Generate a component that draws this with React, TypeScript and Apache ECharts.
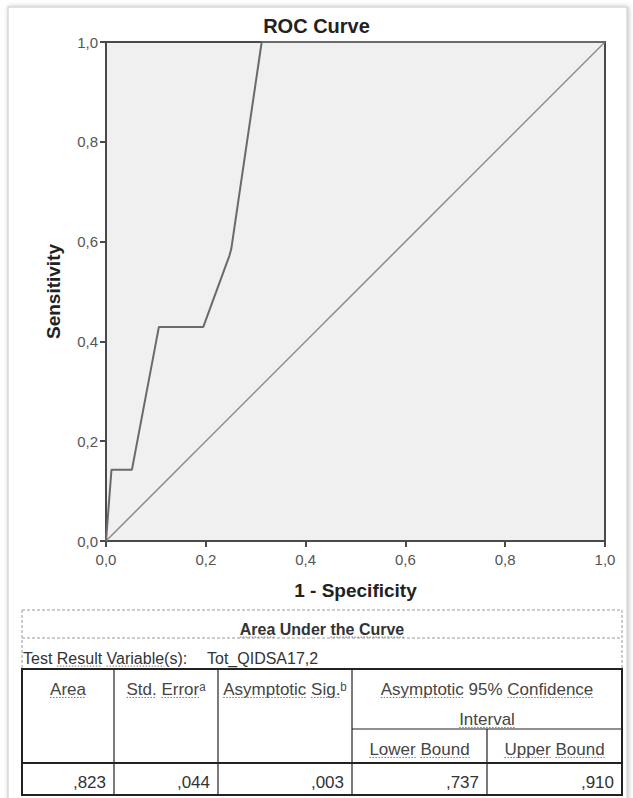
import React, { useEffect, useRef } from "react";
import * as echarts from "echarts";

// ROC curve points (1 - specificity, sensitivity)
const fpr = [0, 0.011, 0.052, 0.106, 0.195, 0.247, 0.251, 0.312, 1];
const tpr = [0, 0.143, 0.143, 0.429, 0.429, 0.571, 0.585, 1, 1];
// reference diagonal
const refFpr = [0, 1];
const refTpr = [0, 1];
// tick labels
const tickValues = [0, 0.2, 0.4, 0.6, 0.8, 1];
const tickLabels = ["0,0", "0,2", "0,4", "0,6", "0,8", "1,0"];
// table
const tableTitle = "Area Under the Curve";
const testVarLabel = "Test Result Variable(s):";
const testVariable = "Tot_QIDSA17,2";
const colHeaders = ["Area", "Std. Errorᵃ", "Asymptotic Sig.ᵇ"];
const ciHeader = ["Asymptotic 95% Confidence", "Interval"];
const ciSubHeaders = ["Lower Bound", "Upper Bound"];
const aucStats = [0.823, 0.044, 0.003, 0.737, 0.91];

const FONT = '"Liberation Sans", Arial, Helvetica, sans-serif';

function measure(text: string, size: number, weight: string) {
  const c = document.createElement("canvas").getContext("2d");
  if (!c) return text.length * size * 0.55;
  c.font = `${weight} ${size}px ${FONT}`;
  return c.measureText(text).width;
}

type Cell = {
  text: string;
  x: number;
  y: number;
  align: "left" | "center" | "right";
  size: number;
  bold?: boolean;
  color: string;
  ul?: string[];
};

function buildCell(c: Cell): any[] {
  const weight = c.bold ? "bold" : "normal";
  const els: any[] = [
    {
      type: "text",
      x: c.x,
      y: c.y,
      silent: true,
      style: {
        text: c.text,
        fill: c.color,
        fontSize: c.size,
        fontFamily: FONT,
        fontWeight: weight,
        align: c.align,
        verticalAlign: "middle",
        textAlign: c.align,
        textVerticalAlign: "middle",
      },
    },
  ];
  if (c.ul) {
    const total = measure(c.text, c.size, weight);
    const start = c.align === "left" ? c.x : c.align === "center" ? c.x - total / 2 : c.x - total;
    const uy = c.y + c.size * 0.35 + 2.5;
    c.ul.forEach((w) => {
      const idx = c.text.indexOf(w);
      if (idx < 0) return;
      const x0 = start + measure(c.text.slice(0, idx), c.size, weight);
      const x1 = x0 + measure(w, c.size, weight);
      els.push({
        type: "line",
        silent: true,
        shape: { x1: x0, y1: uy, x2: x1, y2: uy },
        style: { stroke: "#777", lineWidth: 1, lineDash: [1.5, 1.5] },
      });
    });
  }
  return els;
}

const fmt = (v: number) => v.toFixed(3).replace(/^0\./, ",");

export default function App() {
  const ref = useRef<HTMLDivElement>(null);
  useEffect(() => {
    if (!ref.current) return;
    const chart = echarts.init(ref.current, undefined, { renderer: "svg" });

    const colX = [22, 114, 218, 352, 487, 622];
    const tTop = 669;
    const tBottom = 795;
    const hdrColor = "#454545";
    const valColor = "#333";

    const cells: Cell[] = [
      { text: tableTitle, x: 322, y: 629, align: "center", size: 16, bold: true, color: "#333", ul: ["Area", "the Curve"] },
      { text: testVarLabel, x: 23, y: 658, align: "left", size: 16, color: "#333", ul: ["Result", "Variable"] },
      { text: testVariable, x: 207, y: 658, align: "left", size: 16, color: "#333" },
      { text: colHeaders[0], x: (colX[0] + colX[1]) / 2, y: 689, align: "center", size: 17, color: hdrColor, ul: ["Area"] },
      { text: colHeaders[1], x: (colX[1] + colX[2]) / 2, y: 689, align: "center", size: 17, color: hdrColor, ul: ["Std.", "Error"] },
      { text: colHeaders[2], x: (colX[2] + colX[3]) / 2, y: 689, align: "center", size: 17, color: hdrColor, ul: ["Asymptotic", "Sig."] },
      { text: ciHeader[0], x: (colX[3] + colX[5]) / 2, y: 689, align: "center", size: 17, color: hdrColor, ul: ["Asymptotic", "Confidence"] },
      { text: ciHeader[1], x: (colX[3] + colX[5]) / 2, y: 719, align: "center", size: 17, color: hdrColor, ul: ["Interval"] },
      { text: ciSubHeaders[0], x: (colX[3] + colX[4]) / 2, y: 749, align: "center", size: 17, color: hdrColor, ul: ["Lower", "Bound"] },
      { text: ciSubHeaders[1], x: (colX[4] + colX[5]) / 2, y: 749, align: "center", size: 17, color: hdrColor, ul: ["Upper", "Bound"] },
    ];
    aucStats.forEach((v, i) => {
      cells.push({ text: fmt(v), x: colX[i + 1] - 8, y: 782, align: "right", size: 17, color: valColor });
    });

    const lines: any[] = [];
    const ln = (x1: number, y1: number, x2: number, y2: number, w: number, dash?: number[], color = "#222") =>
      lines.push({
        type: "line",
        silent: true,
        shape: { x1, y1, x2, y2 },
        style: { stroke: color, lineWidth: w, lineDash: dash },
      });
    // dashed caption box
    ln(22, 610, 622, 610, 1, [3, 2], "#9a9a9a");
    ln(22, 638, 622, 638, 1, [3, 2], "#9a9a9a");
    ln(22, 610, 22, tTop, 1, [3, 2], "#9a9a9a");
    ln(622, 610, 622, tTop, 1, [3, 2], "#9a9a9a");
    // table grid
    [1, 2, 3].forEach((i) => ln(colX[i], tTop, colX[i], tBottom, 1.2));
    ln(colX[4], 729, colX[4], tBottom, 1.2);
    ln(colX[3], 729, colX[5], 729, 1.2);
    ln(colX[0], 763, colX[5], 763, 2);
    const tableRect = {
      type: "rect",
      silent: true,
      shape: { x: colX[0], y: tTop, width: colX[5] - colX[0], height: tBottom - tTop },
      style: { fill: "none", stroke: "#222", lineWidth: 2 },
    };

    const card = {
      type: "rect",
      silent: true,
      z: -10,
      shape: { x: 8, y: 7, width: 619, height: 800 },
      style: {
        fill: "#fff",
        stroke: "#c8c8c8",
        lineWidth: 1,
        shadowBlur: 5,
        shadowColor: "rgba(0,0,0,0.25)",
        shadowOffsetX: 1,
        shadowOffsetY: 0,
      },
    };

    const graphics: any[] = [card, ...lines, tableRect];
    cells.forEach((c) => graphics.push(...buildCell(c)));

    const labelFmt = (v: number) => {
      const i = tickValues.findIndex((t) => Math.abs(t - v) < 1e-9);
      return i >= 0 ? tickLabels[i] : "";
    };

    const axisCommon = {
      type: "value" as const,
      min: 0,
      max: 1,
      interval: 0.2,
      axisLine: { show: true, lineStyle: { color: "#4a4a4a", width: 2 } },
      axisTick: { show: true, length: 6, lineStyle: { color: "#4a4a4a", width: 2 } },
      splitLine: { show: false },
      axisLabel: { formatter: labelFmt, color: "#555", fontSize: 15, fontFamily: FONT },
      nameLocation: "middle" as const,
      nameTextStyle: { fontSize: 19, fontWeight: "bold" as const, color: "#222", fontFamily: FONT },
    };

    chart.setOption({
      animation: false,
      backgroundColor: "#fff",
      title: {
        text: "ROC Curve",
        left: "center",
        top: 16,
        padding: 0,
        textStyle: { fontSize: 20, fontWeight: "bold", color: "#222", fontFamily: FONT },
      },
      grid: {
        left: 106,
        top: 42,
        width: 499,
        height: 499,
        show: true,
        backgroundColor: "#f0f0f0",
        borderColor: "#4a4a4a",
        borderWidth: 2,
        containLabel: false,
      },
      xAxis: { ...axisCommon, name: "1 - Specificity", nameGap: 40, axisLabel: { ...axisCommon.axisLabel, margin: 11 } },
      yAxis: { ...axisCommon, name: "Sensitivity", nameGap: 43, axisLabel: { ...axisCommon.axisLabel, margin: 8 } },
      series: [
        {
          type: "line",
          data: refFpr.map((x, i) => [x, refTpr[i]]),
          showSymbol: false,
          silent: true,
          lineStyle: { color: "#8c8c8c", width: 1.5 },
        },
        {
          type: "line",
          data: fpr.map((x, i) => [x, tpr[i]]),
          showSymbol: false,
          silent: true,
          lineStyle: { color: "#6a6a6a", width: 2 },
        },
      ],
      graphic: graphics,
    });

    return () => chart.dispose();
  }, []);

  return (
    <div
      ref={ref}
      style={{ position: "absolute", left: 0, top: 0, width: 633, height: 798, background: "#fff" }}
    />
  );
}
